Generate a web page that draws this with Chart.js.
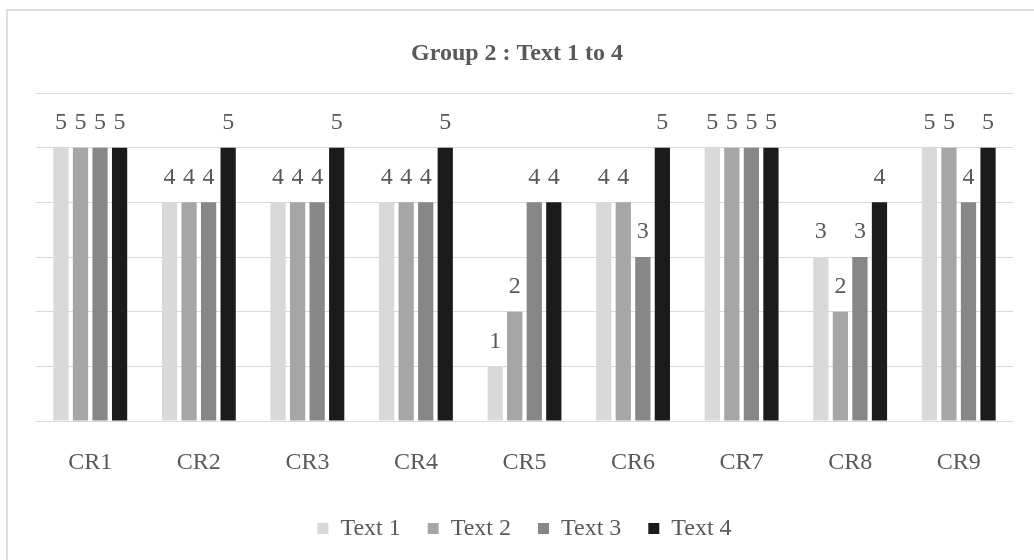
<!DOCTYPE html>
<html>
<head>
<meta charset="utf-8">
<script src="https://cdn.jsdelivr.net/npm/chart.js@4/dist/chart.umd.min.js"></script>
<style>
  html, body { margin: 0; padding: 0; background: #ffffff; }
  #wrap { position: relative; width: 1034px; height: 560px; overflow: hidden; }
  #frame { position: absolute; left: 6px; top: 9px; width: 1100px; height: 700px;
           border: 2px solid #dedede; box-sizing: border-box; }
  #chart { position: absolute; left: 0; top: 0; }
</style>
</head>
<body>
<div id="wrap">
  <div id="frame"></div>
  <canvas id="chart" width="1034" height="560"></canvas>
</div>
<script>
// Criteria and the scores given for each text
const categories = ['CR1', 'CR2', 'CR3', 'CR4', 'CR5', 'CR6', 'CR7', 'CR8', 'CR9'];
const text1 = [5, 4, 4, 4, 1, 4, 5, 3, 5];
const text2 = [5, 4, 4, 4, 2, 4, 5, 2, 5];
const text3 = [5, 4, 4, 4, 4, 3, 5, 3, 4];
const text4 = [5, 5, 5, 5, 4, 5, 5, 4, 5];
const seriesNames = ['Text 1', 'Text 2', 'Text 3', 'Text 4'];
const seriesColors = ['#d9d9d9', '#a6a6a6', '#878787', '#1b1b1b'];

const serif = "'Liberation Serif', 'Times New Roman', serif";
const textGrey = '#595959';

// Writes each bar's value just above it
const valueLabels = {
  id: 'valueLabels',
  afterDatasetsDraw(chart) {
    const ctx = chart.ctx;
    ctx.save();
    ctx.font = '24px ' + serif;
    ctx.fillStyle = textGrey;
    ctx.textAlign = 'center';
    ctx.textBaseline = 'middle';
    chart.data.datasets.forEach((ds, i) => {
      const meta = chart.getDatasetMeta(i);
      meta.data.forEach((bar, j) => {
        ctx.fillText(String(ds.data[j]), bar.x, bar.y - 25);
      });
    });
    ctx.restore();
  }
};

const allSeries = [text1, text2, text3, text4];

new Chart(document.getElementById('chart'), {
  type: 'bar',
  data: {
    labels: categories,
    datasets: allSeries.map((vals, i) => ({
      label: seriesNames[i],
      data: vals,
      backgroundColor: seriesColors[i],
      borderWidth: 0,
      categoryPercentage: 0.72,
      barPercentage: 0.78
    }))
  },
  options: {
    responsive: false,
    animation: false,
    layout: { padding: { top: 0, bottom: 9.5, left: 0, right: 0 } },
    plugins: {
      title: {
        display: true,
        text: 'Group 2 : Text 1 to 4',
        color: textGrey,
        font: { family: serif, size: 24, weight: 'bold', lineHeight: 1.2 },
        padding: { top: 39.6, bottom: 24.6 }
      },
      legend: {
        position: 'bottom',
        fullSize: false,
        labels: {
          color: textGrey,
          font: { family: serif, size: 24 },
          boxWidth: 11,
          boxHeight: 11,
          padding: 27
        }
      },
      tooltip: { enabled: false }
    },
    scales: {
      x: {
        grid: { display: false, drawTicks: false },
        border: { display: false },
        ticks: {
          color: textGrey,
          font: { family: serif, size: 24, lineHeight: 1.2 },
          padding: 27.6,
          maxRotation: 0
        },
        afterFit(scale) { scale.height = 68.5; }
      },
      y: {
        min: 0,
        max: 6,
        ticks: { display: false, stepSize: 1 },
        grid: { color: '#d9d9d9', lineWidth: 1, drawTicks: false },
        border: { display: false },
        afterFit(scale) { scale.width = 36; }
      },
      yRight: {
        position: 'right',
        min: 0,
        max: 6,
        ticks: { display: false },
        grid: { display: false, drawTicks: false },
        border: { display: false },
        afterFit(scale) { scale.width = 21; }
      }
    }
  },
  plugins: [valueLabels]
});
</script>
</body>
</html>
